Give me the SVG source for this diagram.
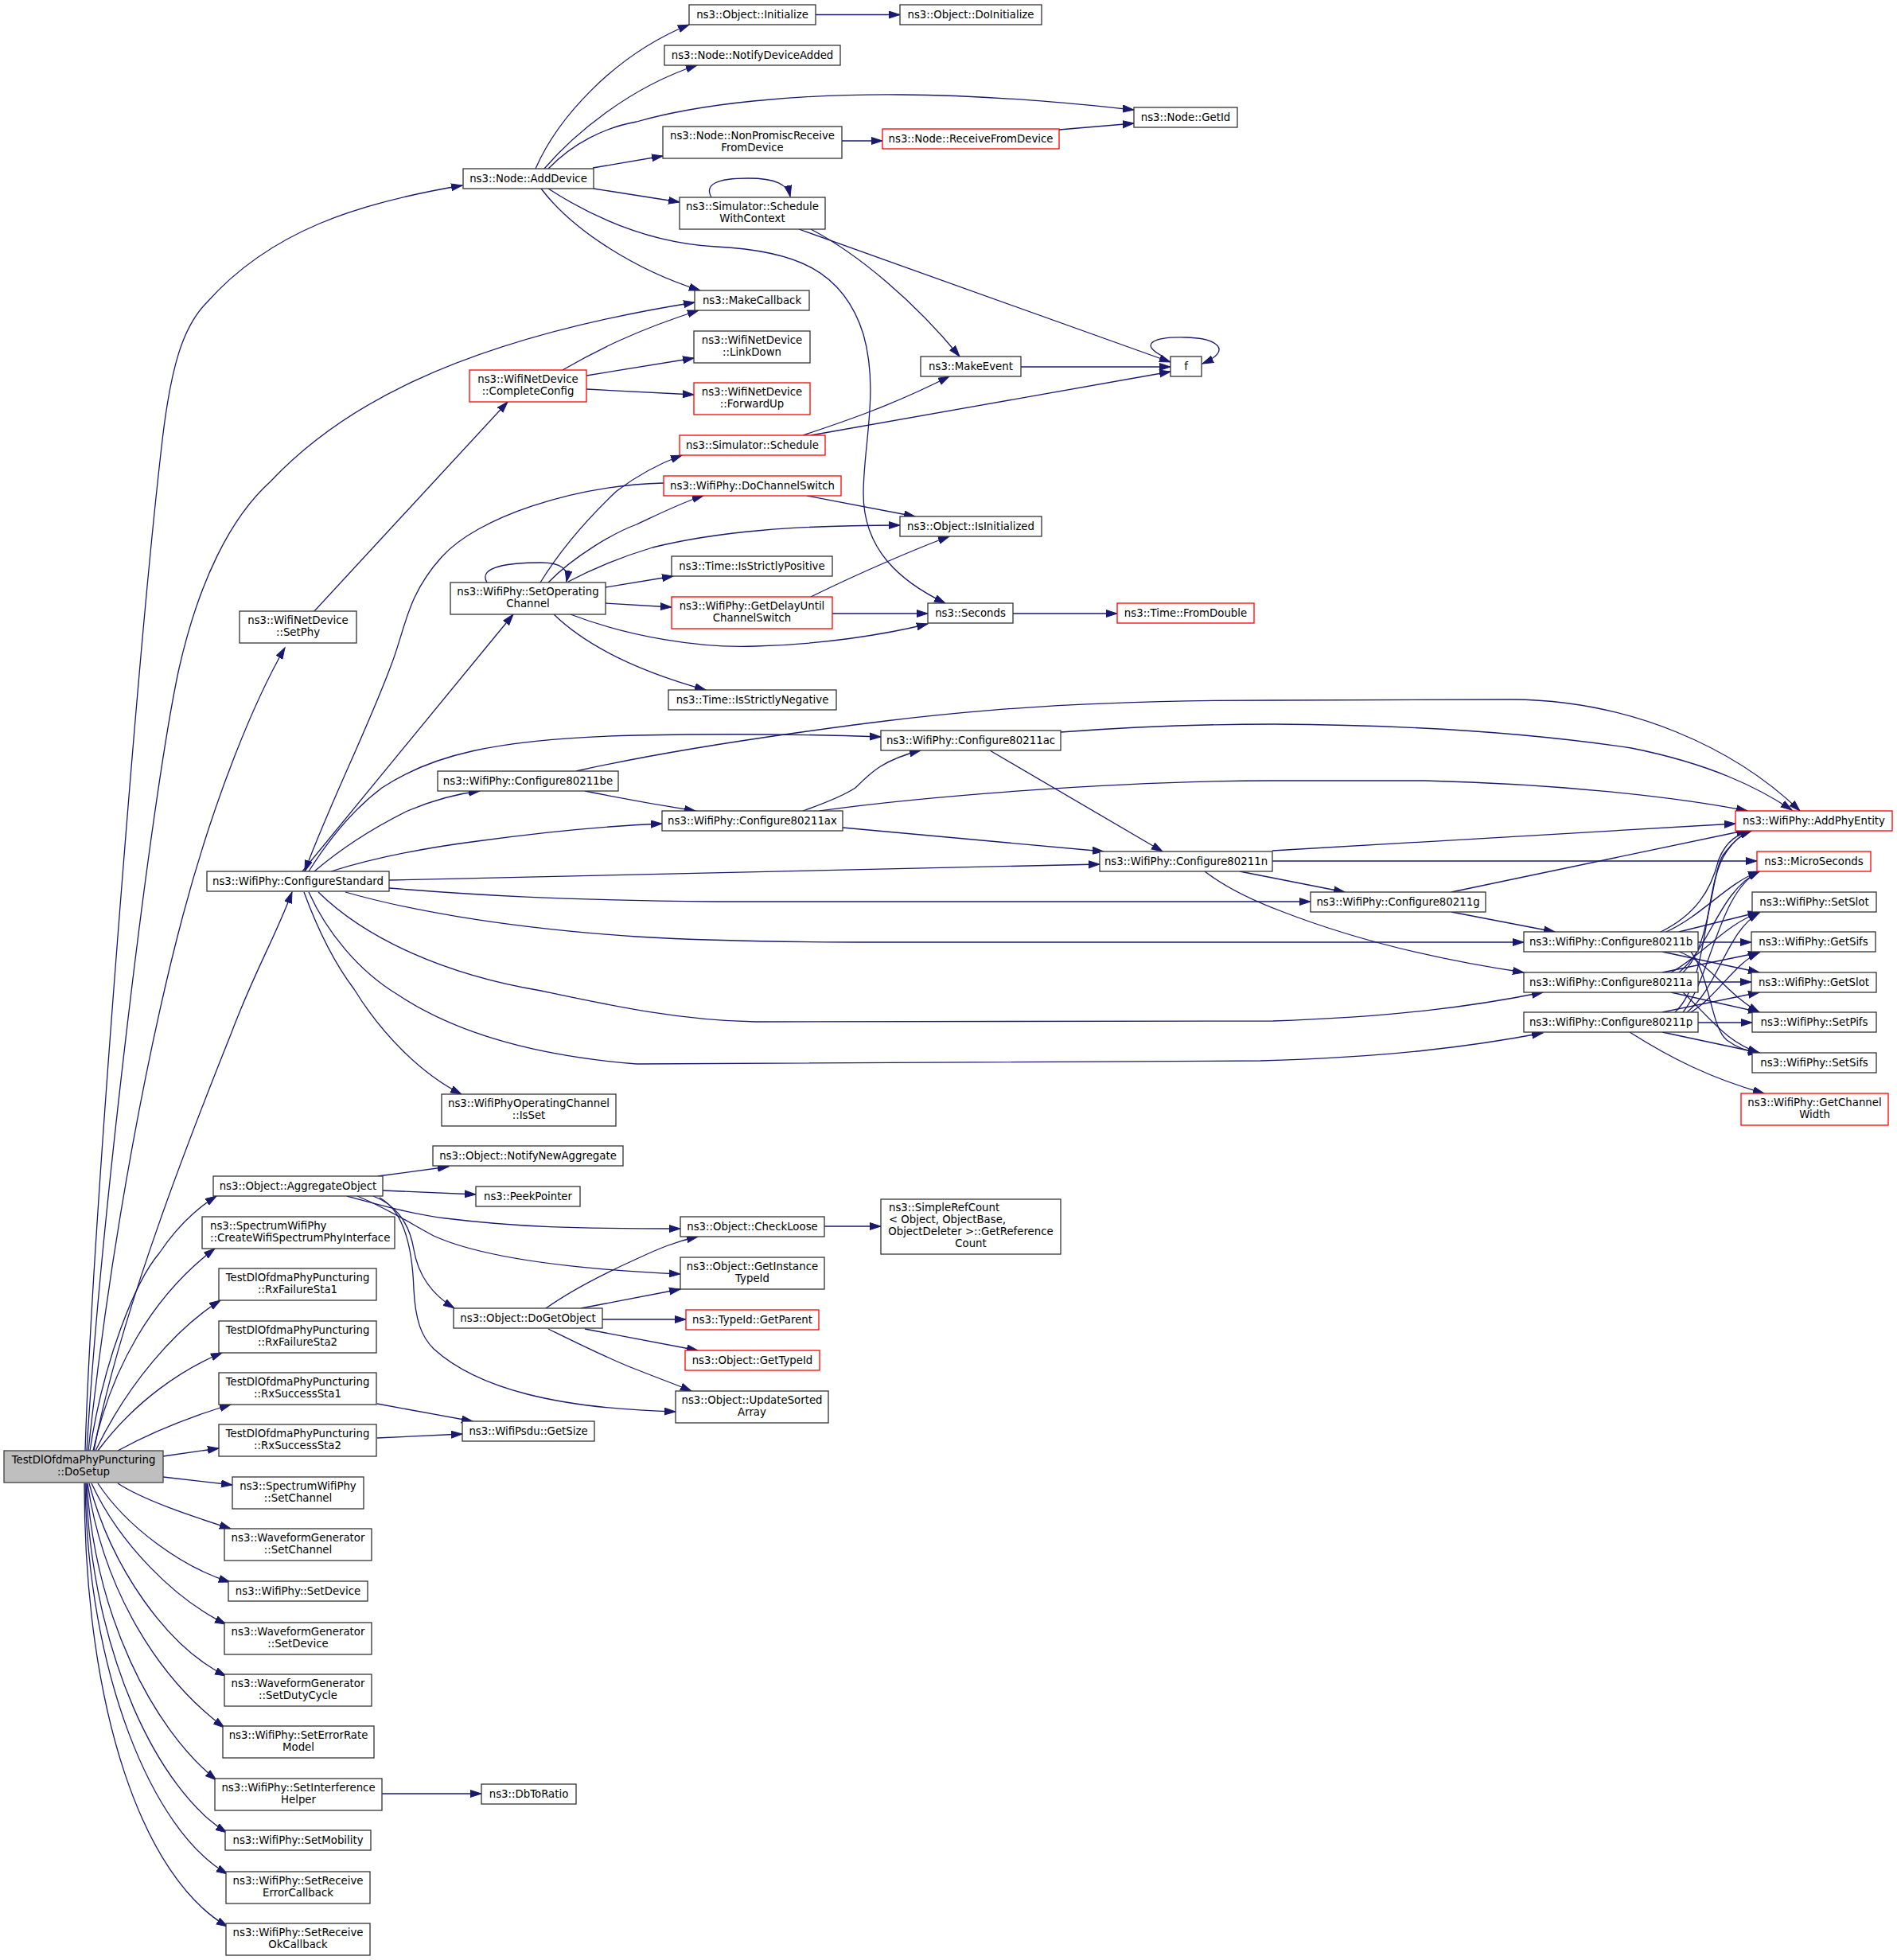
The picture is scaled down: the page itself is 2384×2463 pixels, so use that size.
<svg xmlns="http://www.w3.org/2000/svg" width="2384" height="2463" viewBox="0 0 2384 2463">
<style>
.n rect{fill:#fff;stroke:#333;stroke-width:1.3}
.r rect{stroke:#f00}
.g rect{fill:#bfbfbf;stroke:#404040}
.n text{font-family:"DejaVu Sans",sans-serif;font-size:13.3px;fill:#000;text-anchor:middle}
.n text.l{text-anchor:start}
.e path{fill:none;stroke:#191970;stroke-width:1.3;marker-end:url(#a)}
</style>
<defs>
<marker id="a" markerWidth="16" markerHeight="11" refX="14" refY="5" orient="auto" markerUnits="userSpaceOnUse">
<path d="M0,0.5 L14,5 L0,9.5 z" fill="#191970" stroke="#191970" stroke-width="1"/>
</marker>
</defs>
<rect width="2384" height="2463" fill="#fff"/>
<g id="edges" class="e">
<!-- DoSetup -->
<path d="M107,1823 C115,1560 175,800 204,553 C215,460 230,410 260,380 C340,290 450,255 581,233"/>
<path d="M109,1823 C125,1550 190,1000 225,840 C250,730 290,650 340,605 C420,520 560,430 873,380"/>
<path d="M111,1823 C140,1550 190,1300 230,1150 C270,1000 320,880 358,814"/>
<path d="M118,1823 C150,1650 250,1400 290,1300 C320,1220 345,1180 367,1121"/>
<path d="M113,1823 C130,1710 170,1610 200,1575 C220,1545 245,1520 272,1503"/>
<path d="M117,1823 C140,1720 190,1630 270,1569"/>
<path d="M120,1823 C160,1740 220,1670 277,1634"/>
<path d="M123,1823 C170,1760 230,1720 279,1700"/>
<path d="M148,1823 C190,1800 240,1780 290,1765"/>
<path d="M205,1830 L275,1820"/>
<path d="M205,1856 L292,1866"/>
<path d="M148,1864 C180,1885 240,1905 290,1921"/>
<path d="M123,1864 C160,1920 230,1970 289,1988"/>
<path d="M115,1864 C150,1940 220,2010 284,2041"/>
<path d="M112,1864 C140,1970 210,2070 284,2106"/>
<path d="M110,1864 C130,2000 200,2110 282,2171"/>
<path d="M109,1864 C120,2030 190,2170 272,2237"/>
<path d="M108,1864 C115,2080 200,2250 285,2303"/>
<path d="M107,1864 C110,2100 190,2300 286,2355"/>
<path d="M106,1864 C106,2150 180,2360 286,2421"/>
<!-- AddDevice -->
<path d="M673,212 C700,150 770,70 866,31"/>
<path d="M684,212 C720,170 790,110 876,82"/>
<path d="M689,212 C720,180 760,160 800,153 C880,130 1000,118 1131,119 C1250,120 1350,130 1425,138"/>
<path d="M745,211 L833,196"/>
<path d="M746,237 L854,254"/>
<path d="M689,237 C740,270 810,305 900,310 C1000,315 1060,340 1085,420 C1105,490 1085,560 1085,620 C1085,690 1130,730 1188,758"/>
<path d="M680,237 C720,290 800,340 880,365"/>
<path d="M1025,18.5 L1131,18.5"/>
<path d="M1058,177 L1109,177"/>
<path d="M1331,163 L1425,155"/>
<path d="M894,248 C885,232 900,224 940,224 C975,224 990,232 993,247"/>
<path d="M1019,288 C1080,320 1150,380 1206,448"/>
<path d="M1004,288 L1471,455"/>
<path d="M1283,461 L1471,461"/>
<path d="M1462,448 C1430,432 1450,423 1490,424 C1530,425 1550,440 1511,457"/>
<path d="M1009,547 C1060,530 1120,510 1193,473"/>
<path d="M1019,547 L1471,467"/>
<!-- CompleteConfig / SetPhy -->
<path d="M707,465 C750,440 800,415 878,390"/>
<path d="M737,472 L872,450"/>
<path d="M737,489 L872,496"/>
<path d="M395,768 L638,505"/>
<!-- SetOperatingChannel -->
<path d="M612,732 C600,712 640,707 680,707 C705,707 715,715 712,731"/>
<path d="M679,732 C705,690 740,650 775,617 C800,598 825,584 857,572"/>
<path d="M689,732 C720,700 770,670 800,659 C830,645 860,630 884,623"/>
<path d="M714,731 C750,712 780,700 820,688 C900,668 1000,660 1131,660"/>
<path d="M761,738 L846,724"/>
<path d="M761,758 L844,763"/>
<path d="M717,772 C790,800 880,815 950,812 C1030,810 1110,798 1166,784"/>
<path d="M696,772 C730,805 790,840 887,867"/>
<!-- DoChannelSwitch / GetDelay / Seconds -->
<path d="M1014,623 L1150,649"/>
<path d="M834,607 C720,610 600,650 555,700 C510,750 510,790 490,840 C460,920 410,1020 383,1095"/>
<path d="M1019,750 C1080,720 1150,690 1193,674"/>
<path d="M1046,771 L1166,771"/>
<path d="M1273,771 L1404,771"/>
<!-- ConfigureStandard -->
<path d="M380,1095 L645,772"/>
<path d="M388,1095 C410,1060 440,1020 480,990 C540,950 620,928 800,924 C900,922 1000,922 1107,926"/>
<path d="M395,1095 C430,1065 470,1040 510,1020 C540,1007 570,998 603,994"/>
<path d="M416,1095 C470,1078 530,1066 600,1057 C680,1046 760,1038 832,1035"/>
<path d="M489,1106 L1382,1086"/>
<path d="M489,1116 C600,1125 700,1131 900,1133 L1647,1133"/>
<path d="M434,1121 C500,1140 620,1165 800,1177 C900,1183 1000,1184 1100,1184 L1915,1184"/>
<path d="M400,1121 C460,1180 560,1225 680,1245 C760,1262 850,1282 950,1284 L1600,1283 C1750,1278 1850,1265 1939,1247"/>
<path d="M388,1121 C410,1170 450,1220 500,1250 C560,1290 650,1325 800,1337 L1584,1333 C1750,1328 1850,1315 1939,1298"/>
<path d="M382,1121 C400,1170 420,1210 445,1243 C480,1300 530,1350 580,1375"/>
<!-- 802.11 family -->
<path d="M735,994 C780,1003 830,1012 874,1019"/>
<path d="M724,969 C800,952 900,935 1000,921 C1150,900 1300,880 1600,880 L1900,879 C2050,880 2180,940 2262,1019"/>
<path d="M1333,920 C1400,915 1500,910 1600,910 C1800,911 1950,925 2050,940 C2150,960 2210,990 2252,1018"/>
<path d="M1244,943 L1461,1070"/>
<path d="M1009,1019 C1040,1008 1060,1000 1075,990 C1095,970 1110,955 1157,943"/>
<path d="M1030,1019 C1150,1002 1400,981 1600,981 L1790,981 C1950,985 2100,1000 2196,1019"/>
<path d="M1059,1040 L1387,1070"/>
<path d="M1599,1069 L2181,1035"/>
<path d="M1599,1082 L2208,1082"/>
<path d="M1558,1095 L1690,1121"/>
<path d="M1514,1095 C1540,1115 1570,1130 1610,1145 C1700,1180 1800,1205 1915,1222"/>
<path d="M1824,1121 L2196,1043"/>
<path d="M1824,1146 L1954,1171"/>
<!-- 80211b -->
<path d="M2087,1171 C2130,1150 2150,1120 2160,1080 C2170,1055 2185,1048 2201,1044"/>
<path d="M2094,1171 C2140,1150 2170,1110 2211,1095"/>
<path d="M2110,1171 L2211,1146"/>
<path d="M2134,1184 L2201,1184"/>
<path d="M2089,1196 L2211,1222"/>
<path d="M2110,1196 C2150,1210 2170,1250 2211,1272"/>
<path d="M2125,1196 C2150,1230 2150,1290 2170,1307 C2185,1318 2200,1322 2211,1323"/>
<!-- 80211a -->
<path d="M2115,1222 C2150,1190 2150,1100 2165,1075 C2180,1055 2190,1048 2201,1044"/>
<path d="M2110,1222 C2150,1190 2160,1120 2211,1095"/>
<path d="M2100,1222 C2140,1200 2170,1160 2211,1147"/>
<path d="M2089,1222 L2211,1197"/>
<path d="M2134,1234 L2201,1234"/>
<path d="M2100,1247 L2211,1272"/>
<path d="M2115,1247 C2150,1280 2170,1310 2211,1323"/>
<!-- 80211p -->
<path d="M2105,1272 C2150,1230 2140,1110 2170,1070 C2180,1055 2190,1048 2201,1044"/>
<path d="M2115,1272 C2150,1230 2160,1120 2211,1095"/>
<path d="M2120,1272 C2160,1240 2170,1170 2211,1147"/>
<path d="M2125,1272 C2160,1250 2180,1210 2211,1197"/>
<path d="M2089,1272 L2211,1247"/>
<path d="M2134,1285 L2202,1285"/>
<path d="M2089,1297 L2211,1323"/>
<path d="M2048,1297 C2100,1330 2150,1355 2217,1374"/>
<!-- AggregateObject -->
<path d="M475,1478 L564,1466"/>
<path d="M481,1496 L598,1501"/>
<path d="M436,1503 C480,1515 520,1526 560,1531 C650,1542 720,1544 855,1544"/>
<path d="M449,1503 C490,1520 520,1540 545,1553 C600,1578 700,1594 855,1601"/>
<path d="M469,1503 C500,1515 515,1540 520,1570 C525,1600 540,1625 571,1644"/>
<path d="M477,1505 C505,1520 518,1560 520,1620 C522,1660 530,1680 545,1695 C600,1745 700,1770 849,1774"/>
<!-- DoGetObject -->
<path d="M686,1644 C720,1620 760,1600 800,1582 C830,1568 850,1560 877,1554"/>
<path d="M730,1644 L855,1620"/>
<path d="M757,1658 L862,1658"/>
<path d="M735,1670 L877,1697"/>
<path d="M689,1670 C730,1690 770,1710 800,1721 C830,1733 850,1740 869,1748"/>
<path d="M1036,1541 L1107,1541"/>
<path d="M474,1764 L594,1786"/>
<path d="M474,1807 L581,1802"/>
<path d="M480,2254 L605,2254"/>
</g>
<g id="n_dosetup" class="n g"><rect x="5" y="1823" width="200" height="40"/><text x="105" y="1839">TestDlOfdmaPhyPuncturing</text><text x="105" y="1854">::DoSetup</text></g>
<g id="n_adddevice" class="n"><rect x="582" y="212" width="164" height="25"/><text x="664" y="229">ns3::Node::AddDevice</text></g>
<g id="n_init" class="n"><rect x="866" y="6" width="159" height="25"/><text x="945.5" y="23">ns3::Object::Initialize</text></g>
<g id="n_doinit" class="n"><rect x="1131" y="6" width="178" height="25"/><text x="1220" y="23">ns3::Object::DoInitialize</text></g>
<g id="n_notify" class="n"><rect x="835" y="57" width="221" height="25"/><text x="945.5" y="74">ns3::Node::NotifyDeviceAdded</text></g>
<g id="n_getid" class="n"><rect x="1425" y="135" width="130" height="25"/><text x="1490" y="152">ns3::Node::GetId</text></g>
<g id="n_nonpromisc" class="n"><rect x="833" y="159" width="225" height="40"/><text x="945.5" y="175">ns3::Node::NonPromiscReceive</text><text x="945.5" y="190">FromDevice</text></g>
<g id="n_recvfrom" class="n r"><rect x="1109" y="162" width="222" height="25"/><text x="1220" y="179">ns3::Node::ReceiveFromDevice</text></g>
<g id="n_schedctx" class="n"><rect x="854" y="248" width="183" height="40"/><text x="945.5" y="264">ns3::Simulator::Schedule</text><text x="945.5" y="279">WithContext</text></g>
<g id="n_makecb" class="n"><rect x="873" y="365" width="144" height="25"/><text x="945" y="382">ns3::MakeCallback</text></g>
<g id="n_completecfg" class="n r"><rect x="590" y="465" width="147" height="40"/><text x="663.5" y="481">ns3::WifiNetDevice</text><text x="663.5" y="496">::CompleteConfig</text></g>
<g id="n_linkdown" class="n"><rect x="872" y="416" width="146" height="40"/><text x="945" y="432">ns3::WifiNetDevice</text><text x="945" y="447">::LinkDown</text></g>
<g id="n_forwardup" class="n r"><rect x="872" y="481" width="146" height="40"/><text x="945" y="497">ns3::WifiNetDevice</text><text x="945" y="512">::ForwardUp</text></g>
<g id="n_makeevent" class="n"><rect x="1157" y="448" width="126" height="25"/><text x="1220" y="465">ns3::MakeEvent</text></g>
<g id="n_f" class="n"><rect x="1471" y="448" width="39" height="25"/><text x="1490.5" y="465">f</text></g>
<g id="n_schedule" class="n r"><rect x="854" y="547" width="183" height="25"/><text x="945.5" y="564">ns3::Simulator::Schedule</text></g>
<g id="n_dochsw" class="n r"><rect x="834" y="598" width="223" height="25"/><text x="945.5" y="615">ns3::WifiPhy::DoChannelSwitch</text></g>
<g id="n_isinit" class="n"><rect x="1131" y="649" width="178" height="25"/><text x="1220" y="666">ns3::Object::IsInitialized</text></g>
<g id="n_ispos" class="n"><rect x="844" y="699" width="202" height="25"/><text x="945" y="716">ns3::Time::IsStrictlyPositive</text></g>
<g id="n_setphy" class="n"><rect x="301" y="768" width="147" height="40"/><text x="374.5" y="784">ns3::WifiNetDevice</text><text x="374.5" y="799">::SetPhy</text></g>
<g id="n_setopch" class="n"><rect x="566" y="732" width="195" height="40"/><text x="663.5" y="748">ns3::WifiPhy::SetOperating</text><text x="663.5" y="763">Channel</text></g>
<g id="n_getdelay" class="n r"><rect x="844" y="750" width="202" height="40"/><text x="945" y="766">ns3::WifiPhy::GetDelayUntil</text><text x="945" y="781">ChannelSwitch</text></g>
<g id="n_seconds" class="n"><rect x="1166" y="758" width="107" height="25"/><text x="1219.5" y="775">ns3::Seconds</text></g>
<g id="n_fromdouble" class="n r"><rect x="1404" y="758" width="172" height="25"/><text x="1490" y="775">ns3::Time::FromDouble</text></g>
<g id="n_isneg" class="n"><rect x="840" y="867" width="211" height="25"/><text x="945.5" y="884">ns3::Time::IsStrictlyNegative</text></g>
<g id="n_c80211ac" class="n"><rect x="1107" y="918" width="226" height="25"/><text x="1220" y="935">ns3::WifiPhy::Configure80211ac</text></g>
<g id="n_c80211be" class="n"><rect x="550" y="969" width="227" height="25"/><text x="663.5" y="986">ns3::WifiPhy::Configure80211be</text></g>
<g id="n_c80211ax" class="n"><rect x="832" y="1019" width="227" height="25"/><text x="945.5" y="1036">ns3::WifiPhy::Configure80211ax</text></g>
<g id="n_addphy" class="n r"><rect x="2181" y="1019" width="197" height="25"/><text x="2279.5" y="1036">ns3::WifiPhy::AddPhyEntity</text></g>
<g id="n_c80211n" class="n"><rect x="1382" y="1070" width="217" height="25"/><text x="1490.5" y="1087">ns3::WifiPhy::Configure80211n</text></g>
<g id="n_micro" class="n r"><rect x="2208" y="1070" width="143" height="25"/><text x="2279.5" y="1087">ns3::MicroSeconds</text></g>
<g id="n_cfgstd" class="n"><rect x="260" y="1095" width="229" height="25"/><text x="374.5" y="1112">ns3::WifiPhy::ConfigureStandard</text></g>
<g id="n_c80211g" class="n"><rect x="1647" y="1121" width="220" height="25"/><text x="1757" y="1138">ns3::WifiPhy::Configure80211g</text></g>
<g id="n_setslot" class="n"><rect x="2202" y="1121" width="156" height="25"/><text x="2280" y="1138">ns3::WifiPhy::SetSlot</text></g>
<g id="n_c80211b" class="n"><rect x="1915" y="1171" width="219" height="25"/><text x="2024.5" y="1188">ns3::WifiPhy::Configure80211b</text></g>
<g id="n_getsifs" class="n"><rect x="2201" y="1171" width="156" height="25"/><text x="2279" y="1188">ns3::WifiPhy::GetSifs</text></g>
<g id="n_c80211a" class="n"><rect x="1915" y="1222" width="219" height="25"/><text x="2024.5" y="1239">ns3::WifiPhy::Configure80211a</text></g>
<g id="n_getslot" class="n"><rect x="2201" y="1222" width="157" height="25"/><text x="2279.5" y="1239">ns3::WifiPhy::GetSlot</text></g>
<g id="n_c80211p" class="n"><rect x="1915" y="1272" width="219" height="25"/><text x="2024.5" y="1289">ns3::WifiPhy::Configure80211p</text></g>
<g id="n_setpifs" class="n"><rect x="2202" y="1272" width="156" height="25"/><text x="2280" y="1289">ns3::WifiPhy::SetPifs</text></g>
<g id="n_setsifs" class="n"><rect x="2202" y="1323" width="156" height="25"/><text x="2280" y="1340">ns3::WifiPhy::SetSifs</text></g>
<g id="n_getchw" class="n r"><rect x="2188" y="1374" width="185" height="40"/><text x="2280.5" y="1390">ns3::WifiPhy::GetChannel</text><text x="2280.5" y="1405">Width</text></g>
<g id="n_isset" class="n"><rect x="555" y="1375" width="219" height="40"/><text x="664.5" y="1391">ns3::WifiPhyOperatingChannel</text><text x="664.5" y="1406">::IsSet</text></g>
<g id="n_notifyagg" class="n"><rect x="544" y="1440" width="239" height="25"/><text x="663.5" y="1457">ns3::Object::NotifyNewAggregate</text></g>
<g id="n_aggobj" class="n"><rect x="268" y="1478" width="213" height="25"/><text x="374.5" y="1495">ns3::Object::AggregateObject</text></g>
<g id="n_peek" class="n"><rect x="598" y="1491" width="131" height="25"/><text x="663.5" y="1508">ns3::PeekPointer</text></g>
<g id="n_checkloose" class="n"><rect x="855" y="1529" width="181" height="25"/><text x="945.5" y="1546">ns3::Object::CheckLoose</text></g>
<g id="n_simpleref" class="n"><rect x="1107" y="1507" width="226" height="69"/><text class="l" x="1117" y="1522">ns3::SimpleRefCount</text><text class="l" x="1117" y="1537">&lt; Object, ObjectBase,</text><text x="1220" y="1552"> ObjectDeleter &gt;::GetReference</text><text x="1220" y="1567">Count</text></g>
<g id="n_createwifi" class="n"><rect x="254" y="1529" width="242" height="40"/><text class="l" x="264" y="1545">ns3::SpectrumWifiPhy</text><text class="l" x="264" y="1560">::CreateWifiSpectrumPhyInterface</text></g>
<g id="n_getinst" class="n"><rect x="855" y="1580" width="181" height="40"/><text x="945.5" y="1596">ns3::Object::GetInstance</text><text x="945.5" y="1611">TypeId</text></g>
<g id="n_rxfail1" class="n"><rect x="275" y="1594" width="198" height="40"/><text x="374" y="1610">TestDlOfdmaPhyPuncturing</text><text x="374" y="1625">::RxFailureSta1</text></g>
<g id="n_doget" class="n"><rect x="570" y="1644" width="187" height="25"/><text x="663.5" y="1661">ns3::Object::DoGetObject</text></g>
<g id="n_getparent" class="n r"><rect x="862" y="1646" width="167" height="25"/><text x="945.5" y="1663">ns3::TypeId::GetParent</text></g>
<g id="n_rxfail2" class="n"><rect x="275" y="1660" width="198" height="40"/><text x="374" y="1676">TestDlOfdmaPhyPuncturing</text><text x="374" y="1691">::RxFailureSta2</text></g>
<g id="n_gettypeid" class="n r"><rect x="861" y="1697" width="169" height="25"/><text x="945.5" y="1714">ns3::Object::GetTypeId</text></g>
<g id="n_rxsucc1" class="n"><rect x="275" y="1725" width="198" height="40"/><text x="374" y="1741">TestDlOfdmaPhyPuncturing</text><text x="374" y="1756">::RxSuccessSta1</text></g>
<g id="n_updsorted" class="n"><rect x="849" y="1748" width="192" height="40"/><text x="945" y="1764">ns3::Object::UpdateSorted</text><text x="945" y="1779">Array</text></g>
<g id="n_getsize" class="n"><rect x="581" y="1786" width="166" height="25"/><text x="664" y="1803">ns3::WifiPsdu::GetSize</text></g>
<g id="n_rxsucc2" class="n"><rect x="275" y="1790" width="198" height="40"/><text x="374" y="1806">TestDlOfdmaPhyPuncturing</text><text x="374" y="1821">::RxSuccessSta2</text></g>
<g id="n_swpsetch" class="n"><rect x="292" y="1856" width="165" height="40"/><text x="374.5" y="1872">ns3::SpectrumWifiPhy</text><text x="374.5" y="1887">::SetChannel</text></g>
<g id="n_wgsetch" class="n"><rect x="282" y="1921" width="185" height="40"/><text x="374.5" y="1937">ns3::WaveformGenerator</text><text x="374.5" y="1952">::SetChannel</text></g>
<g id="n_setdevice" class="n"><rect x="287" y="1987" width="175" height="25"/><text x="374.5" y="2004">ns3::WifiPhy::SetDevice</text></g>
<g id="n_wgsetdev" class="n"><rect x="282" y="2039" width="185" height="40"/><text x="374.5" y="2055">ns3::WaveformGenerator</text><text x="374.5" y="2070">::SetDevice</text></g>
<g id="n_wgduty" class="n"><rect x="282" y="2104" width="185" height="40"/><text x="374.5" y="2120">ns3::WaveformGenerator</text><text x="374.5" y="2135">::SetDutyCycle</text></g>
<g id="n_seterr" class="n"><rect x="280" y="2169" width="190" height="40"/><text x="375" y="2185">ns3::WifiPhy::SetErrorRate</text><text x="375" y="2200">Model</text></g>
<g id="n_setinterf" class="n"><rect x="270" y="2235" width="210" height="40"/><text x="375" y="2251">ns3::WifiPhy::SetInterference</text><text x="375" y="2266">Helper</text></g>
<g id="n_dbtoratio" class="n"><rect x="605" y="2242" width="119" height="25"/><text x="664.5" y="2259">ns3::DbToRatio</text></g>
<g id="n_setmob" class="n"><rect x="283" y="2300" width="183" height="25"/><text x="374.5" y="2317">ns3::WifiPhy::SetMobility</text></g>
<g id="n_setrecverr" class="n"><rect x="284" y="2352" width="181" height="40"/><text x="374.5" y="2368">ns3::WifiPhy::SetReceive</text><text x="374.5" y="2383">ErrorCallback</text></g>
<g id="n_setrecvok" class="n"><rect x="284" y="2417" width="181" height="40"/><text x="374.5" y="2433">ns3::WifiPhy::SetReceive</text><text x="374.5" y="2448">OkCallback</text></g>
</svg>
